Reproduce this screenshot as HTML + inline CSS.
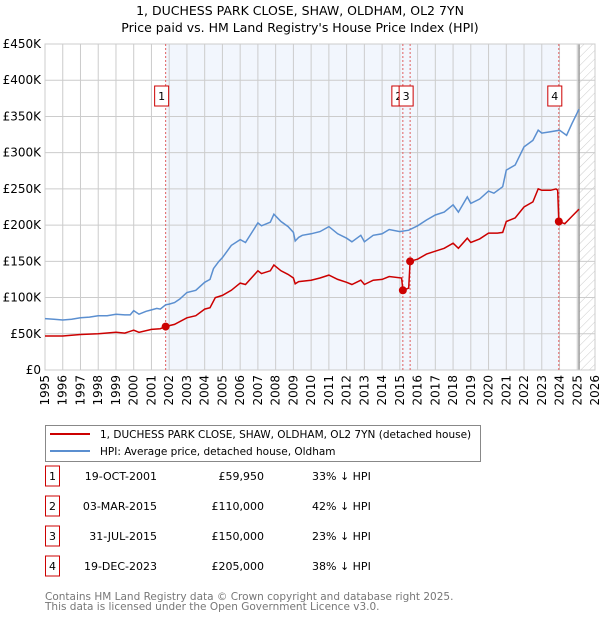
<!DOCTYPE html>
<html><head><meta charset="utf-8"><style>
body{margin:0;background:#fff;font-family:"DejaVu Sans","Liberation Sans",sans-serif;}
svg text{font-family:"DejaVu Sans","Liberation Sans",sans-serif;}
</style></head><body>
<svg id="chart" width="600" height="620" xmlns="http://www.w3.org/2000/svg">
<defs><pattern id="hatch" width="6" height="6" patternUnits="userSpaceOnUse" patternTransform="rotate(45)"><line x1="0" y1="0" x2="0" y2="6" stroke="#ccc" stroke-width="1"/></pattern></defs>
<text x="300" y="15" text-anchor="middle" font-size="12.5">1, DUCHESS PARK CLOSE, SHAW, OLDHAM, OL2 7YN</text>
<text x="300" y="32" text-anchor="middle" font-size="12.5">Price paid vs. HM Land Registry's House Price Index (HPI)</text>
<g id="plot"></g>
<g>
<rect x="45.5" y="425.5" width="435" height="36" fill="#fff" stroke="#888"/>
<line x1="50" y1="434" x2="90" y2="434" stroke="#cc0000" stroke-width="2"/>
<text x="100" y="438" font-size="10.5">1, DUCHESS PARK CLOSE, SHAW, OLDHAM, OL2 7YN (detached house)</text>
<line x1="50" y1="451" x2="90" y2="451" stroke="#5b8fd0" stroke-width="2"/>
<text x="100" y="455" font-size="10.5">HPI: Average price, detached house, Oldham</text>
</g>
<g id="table"></g>
<text x="45" y="600" font-size="10.5" fill="#777">Contains HM Land Registry data © Crown copyright and database right 2025.</text>
<text x="45" y="610" font-size="10.5" fill="#777">This data is licensed under the Open Government Licence v3.0.</text>
</svg>
<script>
const hpiYears=[1995,1995.5,1996,1996.5,1997,1997.5,1998,1998.5,1999,1999.5,1999.8,2000,2000.3,2000.7,2001,2001.3,2001.5,2001.8,2002,2002.3,2002.6,2003,2003.5,2004,2004.3,2004.5,2004.8,2005,2005.5,2006,2006.3,2007,2007.2,2007.7,2007.9,2008.3,2008.7,2009,2009.1,2009.3,2009.5,2010,2010.5,2011,2011.5,2012,2012.3,2012.8,2013,2013.5,2014,2014.4,2015,2015.5,2016,2016.5,2017,2017.5,2018,2018.3,2018.8,2019,2019.5,2020,2020.3,2020.8,2021,2021.5,2022,2022.5,2022.8,2023,2023.5,2024,2024.4,2024.7,2025.1];
const hpiValues=[71,70,69,70,72,73,75,75,77,76,76,82,77,81,83,85,84,90,91,93,98,107,110,121,125,140,150,155,172,180,176,203,199,204,215,205,198,190,178,183,186,188,191,198,188,182,177,186,177,186,188,194,191,193,199,207,214,218,228,218,239,230,236,247,244,253,276,283,308,317,331,327,329,331,324,340,360];
const redYears=[1995,1996,1997,1998,1999,1999.5,2000,2000.3,2001,2001.5,2001.8,2002.3,2003,2003.5,2004,2004.3,2004.6,2005,2005.5,2006,2006.3,2007,2007.2,2007.7,2007.9,2008.3,2008.7,2009,2009.1,2009.3,2010,2010.5,2011,2011.5,2012,2012.3,2012.8,2013,2013.5,2014,2014.4,2015.1,2015.17,2015.5,2015.58,2016,2016.5,2017,2017.5,2018,2018.3,2018.8,2019,2019.5,2020,2020.5,2020.8,2021,2021.5,2022,2022.5,2022.8,2023,2023.5,2023.8,2023.9,2023.96,2024.3,2024.7,2025.1];
const redValues=[47,47,49,50,52,51,55,52,56,57,60,63,72,75,84,86,100,103,110,120,118,137,133,137,145,137,132,127,119,122,124,127,131,125,121,118,124,118,124,125,129,127,110,113,150,153,160,164,168,175,168,182,176,181,189,189,190,205,210,225,232,250,248,248,250,248,205,202,212,222];
const saleLabels=["1","2","3","4"];
const saleYears=[2001.8,2015.17,2015.58,2023.96];
const saleValues=[59.95,110,150,205];
const saleDates=["19-OCT-2001","03-MAR-2015","31-JUL-2015","19-DEC-2023"];
const salePrices=["£59,950","£110,000","£150,000","£205,000"];
const saleDiffs=["33% ↓ HPI","42% ↓ HPI","23% ↓ HPI","38% ↓ HPI"];
const yTicks=[0,50,100,150,200,250,300,350,400,450];
const yTickLabels=["£0","£50K","£100K","£150K","£200K","£250K","£300K","£350K","£400K","£450K"];
const xTicks=[1995,1996,1997,1998,1999,2000,2001,2002,2003,2004,2005,2006,2007,2008,2009,2010,2011,2012,2013,2014,2015,2016,2017,2018,2019,2020,2021,2022,2023,2024,2025,2026];

const L=45,R=595,T=44,B=370,X0=1995,X1=2026,YMAX=450;
const xs=v=>L+(v-X0)/(X1-X0)*(R-L);
const ys=v=>B-v/YMAX*(B-T);
const NS="http://www.w3.org/2000/svg";
const plot=document.getElementById('plot');
function mk(tag,attrs,parent){const e=document.createElementNS(NS,tag);for(const k in attrs)e.setAttribute(k,attrs[k]);(parent||plot).appendChild(e);return e;}

let e=mk('rect',{x:xs(saleYears[0]),y:T,width:xs(saleYears[3])-xs(saleYears[0]),height:B-T,fill:'#f2f6fd'});


e=mk('rect',{x:xs(2025.1),y:T,width:R-xs(2025.1),height:B-T,fill:'url(#hatch)'});



yTicks.forEach((v,i)=>{
  let g=mk('line',{x1:L,x2:R,y1:ys(v),y2:ys(v),stroke:'#ccc','stroke-width':1});
  
  
  let t=mk('text',{x:L-4,y:ys(v)+4,'text-anchor':'end','font-size':12});
  t.textContent=yTickLabels[i];
  
  
});
xTicks.forEach(v=>{
  let g=mk('line',{x1:xs(v),x2:xs(v),y1:T,y2:B,stroke:'#ccc','stroke-width':1});
  
  
  let t=mk('text',{x:0,y:0,'font-size':12,'text-anchor':'end',transform:`translate(${xs(v)+4},${B+5}) rotate(-90)`});
  t.textContent=v;
  
  
});
e=mk('line',{x1:xs(2025.1),x2:xs(2025.1),y1:T,y2:B,stroke:'#999','stroke-width':1.5});


e=mk('rect',{x:L,y:T,width:R-L,height:B-T,fill:'none',stroke:'#ccc'});



saleYears.forEach((v,i)=>{
  let l=mk('line',{x1:xs(v),x2:xs(v),y1:T,y2:B,stroke:'#e06060','stroke-width':1,'stroke-dasharray':'2,2'});
  
  
});

const pts=(xa,ya)=>xa.map((x,i)=>xs(x).toFixed(1)+','+ys(ya[i]).toFixed(1)).join(' ');
e=mk('polyline',{points:pts(hpiYears,hpiValues),fill:'none',stroke:'#5b8fd0','stroke-width':1.5});


e=mk('polyline',{points:pts(redYears,redValues),fill:'none',stroke:'#cc0000','stroke-width':1.5});


saleYears.forEach((v,i)=>{
  let c=mk('circle',{cx:xs(v),cy:ys(saleValues[i]),r:4,fill:'#cc0000'});
  
  
});
saleYears.forEach((v,i)=>{
  const cx=xs(v)-4;
  let r=mk('rect',{x:cx-7,y:86,width:14,height:20,fill:'#fff',stroke:'#cc0000'});
  
  
  let t=mk('text',{x:cx,y:100,'text-anchor':'middle','font-size':11});
  t.textContent=saleLabels[i];
  
  
});

const tbl=document.getElementById('table');
saleLabels.forEach((s,i)=>{
  const y=483+i*30;
  let r=mk('rect',{x:45.5,y:y-17,width:14,height:20,fill:'#fff',stroke:'#cc0000'},tbl);
  
  
  let t=mk('text',{x:52.5,y:y-3,'text-anchor':'middle','font-size':11},tbl);t.textContent=s;
  
  
  t=mk('text',{x:157,y:y-3,'text-anchor':'end','font-size':11},tbl);t.textContent=saleDates[i];
  
  
  t=mk('text',{x:264,y:y-3,'text-anchor':'end','font-size':11},tbl);t.textContent=salePrices[i];
  
  
  t=mk('text',{x:312,y:y-3,'font-size':11},tbl);t.textContent=saleDiffs[i];
  
  
});
</script>
</body></html>
